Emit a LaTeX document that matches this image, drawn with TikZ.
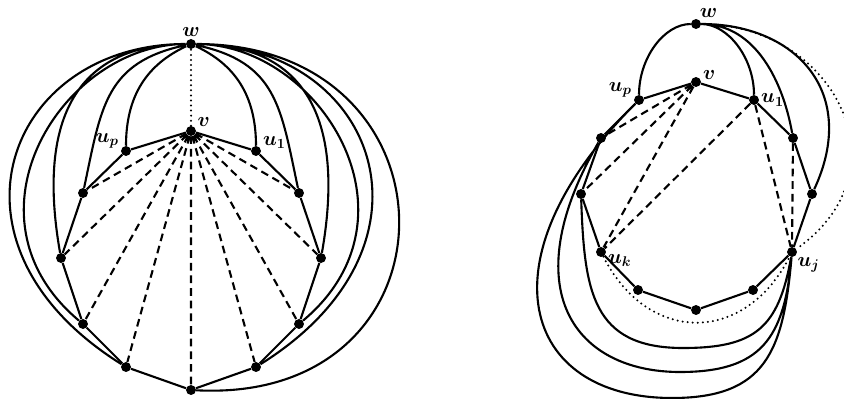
\documentclass[tikz,border=0pt]{standalone}
\usepackage{amsmath,amssymb}
\usepackage{tikz}

\begin{document}
\begin{tikzpicture}[
                vertex/.style={circle, fill=black, inner sep=2.5pt},
                every label/.style={font=\Large\boldmath, inner sep=1.2pt},
                edge/.style={line width=1.5pt},
                chord/.style={line width=1.5pt, dash pattern=on 5.5pt off 3.5pt},
                dots/.style={line width=1.6pt, dash pattern=on 0pt off 3.6pt, line cap=round},
            ]
            \useasboundingbox (0,0) rectangle (21.1,9.95);

            % Grafo 1 (v con todas las cuerdas)
            \begin{scope}[shift={(4.775,0.2)}]
                \node[vertex, label=above:$w$] (w) at (0,8.65) {};
                \node[vertex, label=30:$v$] (v) at (0,6.475) {};
                \node[vertex, label=175:$u_p$] (up) at (-1.625,5.975) {};
                \node[vertex, label=5:$u_1$] (u1) at (1.625,5.975) {};
                \node[vertex] (l1) at (-2.7,4.925) {}; \node[vertex] (r1) at (2.7,4.925) {};
                \node[vertex] (l2) at (-3.25,3.3) {}; \node[vertex] (r2) at (3.25,3.3) {};
                \node[vertex] (l3) at (-2.7,1.65) {}; \node[vertex] (r3) at (2.7,1.65) {};
                \node[vertex] (l4) at (-1.625,0.575) {}; \node[vertex] (r4) at (1.625,0.575) {};
                \node[vertex] (b) at (0,0) {};

                \draw[edge] (v) -- (u1) -- (r1) -- (r2) -- (r3) -- (r4) -- (b)
                    -- (l4) -- (l3) -- (l2) -- (l1) -- (up) -- (v);
                \draw[chord]
                (v) -- (l1) (v) -- (l2) (v) -- (l3) (v) -- (l4) (v) -- (b)
                (v) -- (r4) (v) -- (r3) (v) -- (r2) (v) -- (r1);
                \draw[dots] (v) -- (w);
                \draw[edge]
                (w) .. controls +(205:1.2) and +(90:1.4) .. (up)
                (w) .. controls +(192:2.2) and +(78:2.2) .. (l1)
                (w) .. controls +(180:2.8) and +(100:3.6) .. (l2)
                (w) .. controls +(180:3.2) and +(140:4.2) .. (l3)
                (w) .. controls +(180:4.6) and +(148:5.8) .. (l4)
                (w) .. controls +(-25:1.2) and +(90:1.4) .. (u1)
                (w) .. controls +(-12:2.2) and +(102:2.2) .. (r1)
                (w) .. controls +(0:2.8) and +(80:3.6) .. (r2)
                (w) .. controls +(0:3.2) and +(40:4.2) .. (r3)
                (w) .. controls +(0:4.6) and +(32:5.8) .. (r4)
                (w) .. controls +(0:6.9) and +(-3:6.9) .. (b);
            \end{scope}

            % Grafo 2 (cuerdas desde u_j)
            \begin{scope}[shift={(17.4,2.2)}]
                \node[vertex, label=70:$w$] (w) at (0,7.15) {};
                \node[vertex, label=10:$v$] (v) at (0,5.7) {};
                \node[vertex, label=170:$u_p$] (up) at (-1.425,5.25) {};
                \node[vertex, label=0:$u_1$] (u1) at (1.45,5.25) {};
                \node[vertex] (a) at (2.425,4.3) {};
                \node[vertex] (b) at (2.9,2.9) {};
                \node[vertex, label=below right:$u_j$] (uj) at (2.4,1.45) {};
                \node[vertex] (c) at (1.425,0.5) {};
                \node[vertex] (d) at (0,0) {};
                \node[vertex] (e) at (-1.45,0.5) {};
                \node[vertex, label=-10:$u_k$] (uk) at (-2.375,1.45) {};
                \node[vertex] (f) at (-2.875,2.9) {};
                \node[vertex] (g) at (-2.375,4.3) {};

                \draw[edge] (v) -- (u1) -- (a) -- (b) -- (uj) -- (c) -- (d)
                    -- (e) -- (uk) -- (f) -- (g) -- (up) -- (v);
                \draw[chord]
                (v) -- (g) (v) -- (f) (v) -- (uk)
                (u1) -- (uk) (u1) -- (uj) (a) -- (uj);
                \draw[edge]
                (w) .. controls +(180:0.8) and +(90:1.05) .. (up)
                (w) .. controls +(0:0.8) and +(90:1.05) .. (u1)
                (w) .. controls +(0:1.5) and +(100:1.4) .. (a)
                (w) .. controls +(0:2.5) and +(65:2.8) .. (b);
                \draw[dots]
                (w) .. controls +(0:3.4) and +(35:3.6) .. (uj)
                (uk) .. controls +(-63:2.6) and +(-117:2.6) .. (uj);
                \draw[edge]
                (f) to[out=-88, in=180, looseness=1.3] (-0.325,-0.95) to[out=0, in=-100, looseness=1.3] (uj)
                (g) to[out=240, in=180, out looseness=1.8, in looseness=1.1] (-0.4,-1.55) to[out=0, in=-95, looseness=1.3] (uj)
                (up) to[out=225, in=180, out looseness=1.9, in looseness=1.3] (-0.6,-2.2) to[out=0, in=-95, looseness=1.3] (uj);
            \end{scope}
        \end{tikzpicture}
\end{document}
